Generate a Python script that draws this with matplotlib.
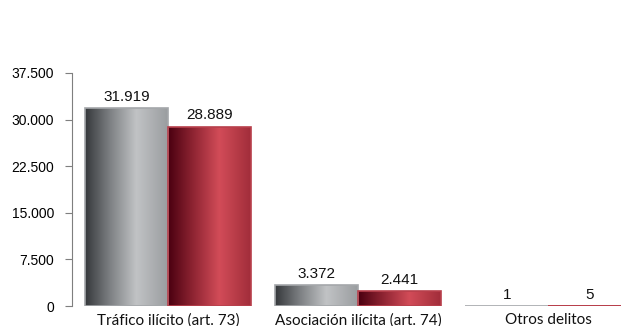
import numpy as np
import matplotlib
matplotlib.use("Agg")
import matplotlib.pyplot as plt
from matplotlib.colors import LinearSegmentedColormap
from matplotlib.ticker import FuncFormatter

categories = ["Tráfico ilícito (art. 73)", "Asociación ilícita (art. 74)", "Otros delitos"]
serie_gris = [31919, 3372, 1]
serie_roja = [28889, 2441, 5]
yticks = [0, 7500, 15000, 22500, 30000, 37500]

def miles(v, pos=None):
    return f"{int(v):,}".replace(",", ".")

# cylinder-like shading, dark on the left, highlight past the middle
cmap_gris = LinearSegmentedColormap.from_list(
    "gris", [(0, "#35383b"), (0.3, "#7d8083"), (0.62, "#c1c3c5"), (1, "#9a9da0")])
cmap_roja = LinearSegmentedColormap.from_list(
    "roja", [(0, "#4a0010"), (0.3, "#8e2432"), (0.62, "#d24c58"), (1, "#a12d3a")])

fig = plt.figure(figsize=(6.21, 3.26), dpi=100)
ax = fig.add_axes([72 / 621, 20 / 326, 549 / 621, 233 / 326])

x = np.arange(len(categories))
w = 0.435
grad = np.linspace(0, 1, 256).reshape(1, -1)

def draw_bars(xs, vals, cmap, edge):
    bars = ax.bar(xs, vals, w, color="none", edgecolor=edge, linewidth=1.2, zorder=3)
    for b in bars:
        x0, y0 = b.get_x(), b.get_y()
        im = ax.imshow(grad, cmap=cmap, aspect="auto", zorder=2,
                       extent=[x0, x0 + b.get_width(), y0, y0 + b.get_height()])
        im.set_clip_path(b)
    return bars

bg = draw_bars(x - w / 2, serie_gris, cmap_gris, "#a4a7aa")
br = draw_bars(x + w / 2, serie_roja, cmap_roja, "#b8404c")

for bars, vals in ((bg, serie_gris), (br, serie_roja)):
    for b, v in zip(bars, vals):
        ax.annotate(miles(v), (b.get_x() + b.get_width() / 2, v),
                    xytext=(0, 3), textcoords="offset points", ha="center", va="bottom",
                    fontsize=11, family="Liberation Sans", color="#111111")

ax.set_xlim(-0.505, 2.384)
ax.set_ylim(0, 37500)
ax.set_yticks(yticks)
ax.yaxis.set_major_formatter(FuncFormatter(miles))
ax.set_xticks(x)
ax.set_xticklabels(categories, fontsize=11, family="Lato", color="#111111")
ax.tick_params(axis="x", length=0, pad=5)
ax.tick_params(axis="y", length=5, width=0.8, color="#7f7f7f", labelsize=10, pad=8)
for lbl in ax.get_yticklabels():
    lbl.set_family("Liberation Sans")

for s in ("top", "right", "bottom"):
    ax.spines[s].set_visible(False)
ax.spines["left"].set_color("#7f7f7f")
ax.spines["left"].set_linewidth(0.8)

fig.savefig("out.png", dpi=100)
